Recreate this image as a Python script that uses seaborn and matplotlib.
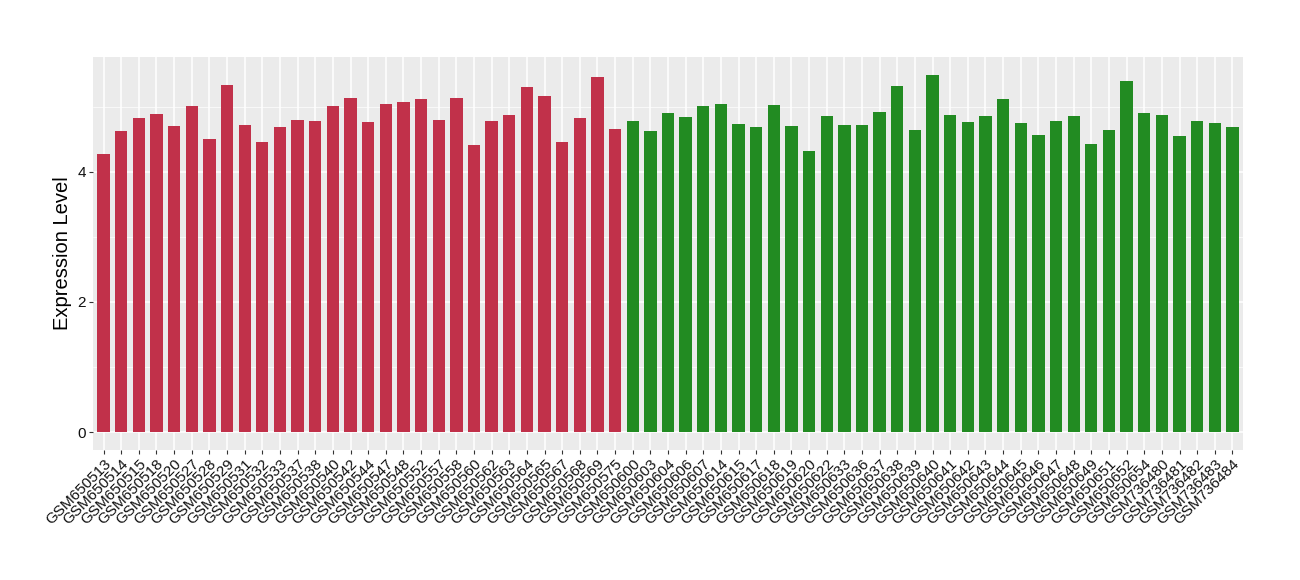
import matplotlib as mpl
import matplotlib.pyplot as plt
import seaborn as sns
import pandas as pd
from matplotlib.ticker import MultipleLocator

mpl.use('agg')

# Sample names, groups and expression values
red_samples = ['GSM650513', 'GSM650514', 'GSM650515', 'GSM650518', 'GSM650520',
               'GSM650527', 'GSM650528', 'GSM650529', 'GSM650531', 'GSM650532',
               'GSM650533', 'GSM650537', 'GSM650538', 'GSM650540', 'GSM650542',
               'GSM650544', 'GSM650547', 'GSM650548', 'GSM650552', 'GSM650557',
               'GSM650558', 'GSM650560', 'GSM650562', 'GSM650563', 'GSM650564',
               'GSM650565', 'GSM650567', 'GSM650568', 'GSM650569', 'GSM650575']
red_values = [4.28, 4.63, 4.83, 4.89, 4.70, 5.01, 4.51, 5.33, 4.72, 4.46,
              4.69, 4.80, 4.78, 5.01, 5.13, 4.77, 5.04, 5.07, 5.12, 4.80,
              5.13, 4.41, 4.78, 4.87, 5.30, 5.16, 4.46, 4.83, 5.46, 4.66]

green_samples = ['GSM650600', 'GSM650603', 'GSM650604', 'GSM650606', 'GSM650607',
                 'GSM650614', 'GSM650615', 'GSM650617', 'GSM650618', 'GSM650619',
                 'GSM650620', 'GSM650622', 'GSM650633', 'GSM650636', 'GSM650637',
                 'GSM650638', 'GSM650639', 'GSM650640', 'GSM650641', 'GSM650642',
                 'GSM650643', 'GSM650644', 'GSM650645', 'GSM650646', 'GSM650647',
                 'GSM650648', 'GSM650649', 'GSM650651', 'GSM650652', 'GSM650654',
                 'GSM736480', 'GSM736481', 'GSM736482', 'GSM736483', 'GSM736484']
green_values = [4.78, 4.63, 4.90, 4.84, 5.01, 5.04, 4.74, 4.69, 5.03, 4.70,
                4.32, 4.86, 4.72, 4.72, 4.92, 5.32, 4.64, 5.49, 4.87, 4.77,
                4.86, 5.12, 4.75, 4.57, 4.78, 4.86, 4.43, 4.64, 5.40, 4.90,
                4.87, 4.55, 4.78, 4.75, 4.69]

group_colors = {'red': '#C1314A', 'green': '#228B22'}

df = pd.DataFrame({
    'Sample': red_samples + green_samples,
    'Expression Level': red_values + green_values,
    'Group': ['red'] * len(red_samples) + ['green'] * len(green_samples),
})

sns.set_theme(style='darkgrid', rc={
    'axes.facecolor': '#EBEBEB',
    'grid.color': 'white',
})
plt.rcParams['font.family'] = ['Liberation Sans', 'DejaVu Sans']

fig, ax = plt.subplots(figsize=(13, 5.8), dpi=100)
fig.subplots_adjust(left=93 / 1300, right=1243 / 1300, top=1 - 57 / 580, bottom=1 - 450 / 580)

sns.barplot(data=df, x='Sample', y='Expression Level', hue='Group',
            palette=group_colors, dodge=False, width=0.7, legend=False,
            saturation=1, linewidth=0, ax=ax)

ax.set_xlim(-0.6, len(df) - 0.4)
ax.set_ylim(-0.275, 5.765)
ax.yaxis.set_major_locator(MultipleLocator(2))
ax.yaxis.set_minor_locator(MultipleLocator(1))
ax.grid(which='major', color='white', linewidth=1.1)
ax.grid(which='minor', axis='y', color='white', linewidth=0.5)
ax.set_axisbelow(True)
for s in ax.spines.values():
    s.set_visible(False)

ax.tick_params(axis='both', which='major', length=3, width=0.8, color='#333333',
               labelcolor='#111111', labelsize=11, pad=2, bottom=True, left=True)
ax.tick_params(axis='y', which='minor', length=0)
plt.setp(ax.get_xticklabels(), rotation=45, ha='right', rotation_mode='anchor')

ax.set_xlabel('')
ax.set_ylabel('Expression Level', fontsize=14.5, labelpad=4, color='black')

fig.savefig('out.png', dpi=100)
